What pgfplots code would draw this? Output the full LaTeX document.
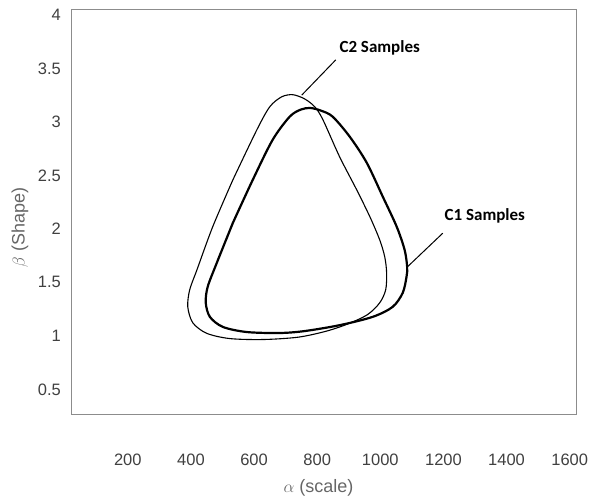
\documentclass[border=0pt]{standalone}
\usepackage{pgfplots}
\pgfplotsset{compat=1.18}
\usepackage{fontspec}
\setmainfont{Liberation Sans}
\newfontfamily\calib{Carlito}

% contour points (closed loops, start = end)
\pgfplotstableread{
x y
533 2.459
609 2.927
650 3.142
688 3.235
723 3.254
760 3.215
792 3.142
818 3.021
871 2.674
925 2.366
967 2.113
998 1.898
1014 1.739
1020 1.589
1017 1.430
998 1.309
960 1.200
900 1.115
830 1.045
740 0.988
628 0.966
523 0.975
450 1.024
406 1.122
390 1.271
396 1.430
419 1.617
469 2.020
533 2.459
}\ctwo

\pgfplotstableread{
x y
533 2.057
596 2.459
659 2.833
713 3.049
748 3.115
778 3.130
812 3.105
849 3.049
903 2.862
957 2.618
1008 2.300
1052 2.020
1077 1.804
1085 1.645
1083 1.552
1071 1.402
1039 1.271
976 1.178
871 1.100
760 1.045
681 1.027
577 1.036
501 1.084
460 1.178
447 1.309
453 1.458
482 1.683
533 2.057
}\cone

\begin{document}
\begin{tikzpicture}
\path[use as bounding box] (-71bp,-88bp) rectangle (529bp,414bp);
\begin{axis}[
  at={(0,0)}, anchor=south west,
  scale only axis, width=505bp, height=405bp,
  xmin=20, xmax=1620, ymin=0.27, ymax=4.055,
  xtick={200,400,...,1600}, ytick={0.5,1,1.5,2,2.5,3,3.5,4},
  scaled ticks=false,
  /pgf/number format/1000 sep={},
  /pgf/number format/assume math mode=true,
  major tick length=0pt,
  axis line style={draw=black!45, line width=0.8bp},
  tick label style={font=\fontsize{16.5bp}{18bp}\selectfont, text=black!75},
  xticklabel style={anchor=center, yshift=-46bp},
  yticklabel style={anchor=east, inner sep=0pt, xshift=-10bp},
  xlabel={$\alpha$ (scale)}, ylabel={$\beta$ (Shape)},
  label style={font=\fontsize{18bp}{20bp}\selectfont, text=black!60},
  xlabel style={at={(axis description cs:0.49,0)}, anchor=center, yshift=-74bp},
  ylabel style={at={(axis description cs:-0.101,0.46)}, anchor=center},
  clip=false,
]
\addplot[black, line width=1.1bp, smooth] table {\ctwo};
\addplot[black, line width=2.2bp, smooth] table {\cone};

\draw[black, line width=1bp] (axis cs:751,3.25) -- (axis cs:859,3.58);
\node[font=\calib\bfseries\fontsize{17bp}{19bp}\selectfont] at (axis cs:998,3.69) {C2 Samples};
\draw[black, line width=1bp] (axis cs:1084,1.64) -- (axis cs:1198,1.96);
\node[font=\calib\bfseries\fontsize{17bp}{19bp}\selectfont] at (axis cs:1331,2.12) {C1 Samples};
\end{axis}
\end{tikzpicture}
\end{document}
